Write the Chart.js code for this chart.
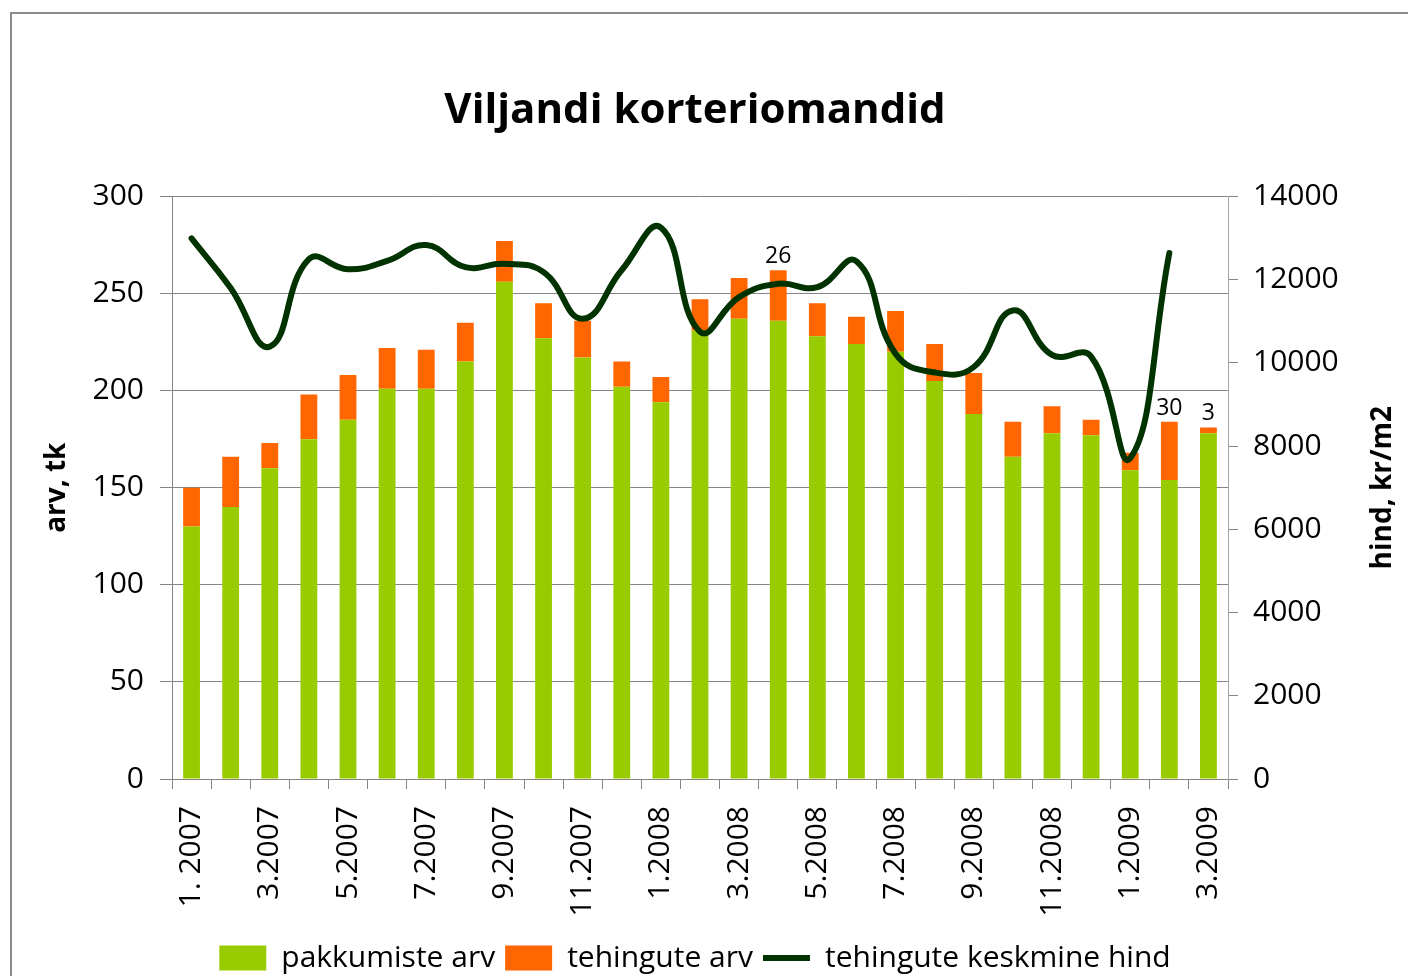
<!DOCTYPE html>
<html>
<head>
<meta charset="utf-8">
<script src="https://cdn.jsdelivr.net/npm/chart.js@4/dist/chart.umd.min.js"></script>
<style>
  html, body { margin: 0; padding: 0; background: #fff; overflow: hidden; }
  #frame { position: absolute; left: 10px; top: 12px; width: 1600px; height: 1200px;
           border-left: 2px solid #8c8c8c; border-top: 2px solid #8c8c8c; }
  #wrap { position: absolute; left: 0; top: 0; width: 1408px; height: 983px; }
</style>
</head>
<body>
<div id="frame"></div>
<div id="wrap"><canvas id="chart"></canvas></div>
<script>
// ─── Data ────────────────────────────────────────────────────
const TITLE = 'Viljandi korteriomandid';
const Y_TITLE = 'arv, tk';
const Y2_TITLE = 'hind, kr/m2';

const months = [
  '1. 2007', '2.2007', '3.2007', '4.2007', '5.2007', '6.2007', '7.2007', '8.2007', '9.2007',
  '10.2007', '11.2007', '12.2007', '1.2008', '2.2008', '3.2008', '4.2008', '5.2008', '6.2008',
  '7.2008', '8.2008', '9.2008', '10.2008', '11.2008', '12.2008', '1.2009', '2.2009', '3.2009',
];

// pakkumiste arv (green part of the stack)
const pakkumised = [
  130, 140, 160, 175, 185, 201, 201, 215, 256,
  227, 217, 202, 194, 231, 237, 236, 228, 224,
  220, 205, 188, 166, 178, 177, 159, 154, 178,
];

// tehingute arv (orange part of the stack)
const tehingud = [
  20, 26, 13, 23, 23, 21, 20, 20, 21,
  18, 19, 13, 13, 16, 21, 26, 17, 14,
  21, 19, 21, 18, 14, 8, 9, 30, 3,
];

// tehingute keskmine hind, kr/m2 (right axis)
const hind = [
  12990, 11800, 10390, 12490, 12250, 12450, 12830, 12300, 12380,
  12180, 11060, 12230, 13250, 10750, 11580, 11900, 11820, 12440,
  10220, 9770, 9900, 11260, 10190, 10150, 7710, 12640, null,
];

// bars whose tehingute arv is written above them
const labelled = [15, 25, 26];

// ─── Colors ──────────────────────────────────────────────────
const GREEN  = '#99cc00';
const ORANGE = '#ff6600';
const DARK   = '#003300';
const GRID   = '#868686';

Chart.defaults.font.family = "'Open Sans', sans-serif";
Chart.defaults.color = '#000';

// numbers on top of a few orange bars
const barLabels = {
  id: 'barLabels',
  afterDatasetsDraw(chart) {
    const { ctx } = chart;
    const meta = chart.getDatasetMeta(1);
    ctx.save();
    ctx.font = "23px 'Open Sans', sans-serif";
    ctx.fillStyle = '#000';
    ctx.textAlign = 'center';
    ctx.textBaseline = 'alphabetic';
    labelled.forEach(i => {
      const bar = meta.data[i];
      ctx.fillText(String(tehingud[i]), bar.x, bar.y - 7);
    });
    ctx.restore();
  },
};

// right axis title reads bottom-to-top like the left one
const rightTitle = {
  id: 'rightTitle',
  afterDraw(chart) {
    const { ctx, chartArea } = chart;
    ctx.save();
    ctx.translate(1383, (chartArea.top + chartArea.bottom) / 2);
    ctx.rotate(-Math.PI / 2);
    ctx.font = "bold 28px 'Open Sans', sans-serif";
    ctx.fillStyle = '#000';
    ctx.textAlign = 'center';
    ctx.textBaseline = 'middle';
    ctx.fillText(Y2_TITLE, 0, 0);
    ctx.restore();
  },
};

new Chart(document.getElementById('chart'), {
  type: 'bar',
  data: {
    labels: months,
    datasets: [
      {
        label: 'pakkumiste arv',
        data: pakkumised,
        backgroundColor: GREEN,
        borderWidth: 0,
        stack: 's',
        order: 1,
        pointStyle: 'rect',
        barPercentage: 0.43,
        categoryPercentage: 1,
      },
      {
        label: 'tehingute arv',
        data: tehingud,
        backgroundColor: ORANGE,
        borderWidth: 0,
        stack: 's',
        order: 1,
        pointStyle: 'rect',
        barPercentage: 0.43,
        categoryPercentage: 1,
      },
      {
        type: 'line',
        label: 'tehingute keskmine hind',
        data: hind,
        yAxisID: 'y1',
        borderColor: DARK,
        backgroundColor: DARK,
        borderWidth: 6,
        borderCapStyle: 'round',
        borderJoinStyle: 'round',
        tension: 0.45,
        pointRadius: 0,
        pointStyle: 'line',
        fill: false,
        order: 0,
      },
    ],
  },
  options: {
    responsive: true,
    maintainAspectRatio: false,
    animation: false,
    layout: { padding: { left: 0, right: 18, top: 0, bottom: 0 } },
    plugins: {
      title: {
        display: true,
        text: TITLE,
        color: '#000',
        font: { size: 42, weight: 'bold' },
        padding: { top: 86, bottom: 60 },
      },
      legend: {
        position: 'bottom',
        labels: {
          color: '#000',
          font: { size: 30 },
          usePointStyle: true,
          pointStyleWidth: 47,
          boxWidth: 47,
          boxHeight: 25,
          padding: 10,
          sort: (a, b) => a.datasetIndex - b.datasetIndex,
        },
      },
      tooltip: { enabled: false },
    },
    scales: {
      x: {
        stacked: true,
        grid: { display: true, drawOnChartArea: false, offset: true, color: GRID, tickLength: 10 },
        border: { color: GRID },
        ticks: {
          autoSkip: false,
          minRotation: 90,
          maxRotation: 90,
          padding: 17,
          font: { size: 30 },
          color: '#000',
          callback: (v, i) => (i % 2 === 0 ? months[i] : ''),
        },
        afterFit: s => { s.height = 154; },
      },
      y: {
        stacked: true,
        min: 0,
        max: 300,
        ticks: { stepSize: 50, padding: 16, font: { size: 30 }, color: '#000' },
        grid: { color: GRID, tickLength: 12 },
        border: { color: GRID },
        title: {
          display: true,
          text: Y_TITLE,
          color: '#000',
          font: { size: 28, weight: 'bold' },
          padding: { top: 40, bottom: 0 },
        },
        afterFit: s => { s.width = 172; },
      },
      y1: {
        position: 'right',
        min: 0,
        max: 14000,
        ticks: {
          stepSize: 2000,
          padding: 15,
          font: { size: 30 },
          color: '#000',
          callback: v => String(v),
        },
        grid: { drawOnChartArea: false, color: GRID, tickLength: 10 },
        border: { color: '#a6a6a6' },
        afterFit: s => { s.width = 162; },
      },
    },
  },
  plugins: [barLabels, rightTitle],
});
</script>
</body>
</html>
